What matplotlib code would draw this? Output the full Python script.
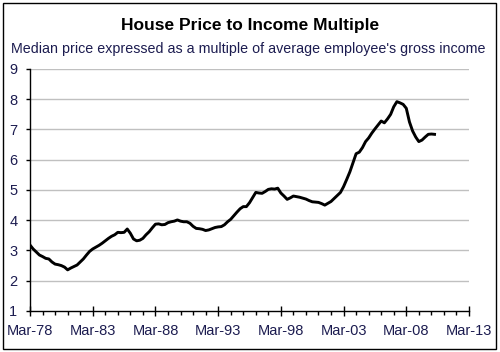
import matplotlib
matplotlib.use("Agg")
import matplotlib.pyplot as plt
from matplotlib.patches import Rectangle
import pandas as pd

title = "House Price to Income Multiple"
subtitle = "Median price expressed as a multiple of average employee's gross income"

start_date = "1978-03-01"
values = [
    3.18, 3.05, 2.95, 2.85,   # 1978
    2.80, 2.74, 2.72, 2.62,   # 1979
    2.55, 2.53, 2.50, 2.45,   # 1980
    2.36, 2.42, 2.47, 2.52,   # 1981
    2.62, 2.72, 2.85, 2.97,   # 1982
    3.05, 3.11, 3.17, 3.24,   # 1983
    3.32, 3.40, 3.47, 3.52,   # 1984
    3.60, 3.59, 3.60, 3.71,   # 1985
    3.57, 3.38, 3.32, 3.34,   # 1986
    3.40, 3.52, 3.62, 3.75,   # 1987
    3.87, 3.88, 3.85, 3.86,   # 1988
    3.92, 3.95, 3.97, 4.01,   # 1989
    3.97, 3.95, 3.95, 3.90,   # 1990
    3.80, 3.73, 3.72, 3.70,   # 1991
    3.66, 3.68, 3.72, 3.76,   # 1992
    3.78, 3.79, 3.85, 3.95,   # 1993
    4.03, 4.15, 4.27, 4.38,   # 1994
    4.45, 4.45, 4.58, 4.75,   # 1995
    4.92, 4.90, 4.89, 4.95,   # 1996
    5.02, 5.04, 5.03, 5.06,   # 1997
    4.90, 4.80, 4.69, 4.74,   # 1998
    4.80, 4.78, 4.76, 4.73,   # 1999
    4.70, 4.65, 4.61, 4.60,   # 2000
    4.59, 4.55, 4.50, 4.56,   # 2001
    4.62, 4.72, 4.82, 4.92,   # 2002
    5.11, 5.35, 5.60, 5.90,   # 2003
    6.20, 6.25, 6.40, 6.60,   # 2004
    6.72, 6.88, 7.02, 7.15,   # 2005
    7.28, 7.22, 7.35, 7.50,   # 2006
    7.75, 7.92, 7.88, 7.83,   # 2007
    7.70, 7.25, 6.95, 6.75,   # 2008
    6.60, 6.65, 6.75, 6.84,   # 2009
    6.85, 6.84,               # 2010
]
x_tick_labels = ["Mar-78", "Mar-83", "Mar-88", "Mar-93", "Mar-98", "Mar-03", "Mar-08", "Mar-13"]
y_ticks = [1, 2, 3, 4, 5, 6, 7, 8, 9]

dates = pd.date_range(start_date, periods=len(values), freq="3MS")
x_ticks = [pd.to_datetime(l, format="%b-%y") for l in x_tick_labels]
minor_ticks = pd.date_range(x_ticks[0], x_ticks[-1], freq="12MS")

plt.rcParams["font.family"] = ["Liberation Sans", "DejaVu Sans"]
text_color = "#1c1c50"

fig = plt.figure(figsize=(5.0, 3.52), dpi=100)
ax = fig.add_axes([0.06, 0.1165, 0.878, 0.6875])

ax.plot(dates, values, color="black", lw=2.1, solid_joinstyle="round")

ax.set_xlim(x_ticks[0], x_ticks[-1])
ax.set_ylim(1, 9)
ax.set_yticks(y_ticks)
ax.set_xticks(x_ticks)
ax.set_xticklabels(x_tick_labels)
ax.set_xticks(minor_ticks, minor=True)

for yv in y_ticks[1:]:
    ax.axhline(yv, color="#c0c0c0", lw=1.0, zorder=0)

for s in ["top", "right"]:
    ax.spines[s].set_visible(False)
for s in ["left", "bottom"]:
    ax.spines[s].set_color("black")
    ax.spines[s].set_linewidth(1.0)

ax.tick_params(axis="y", which="major", direction="out", length=3, width=1,
               labelsize=10.5, labelcolor=text_color, pad=6)
ax.tick_params(axis="x", which="major", direction="inout", length=7, width=1,
               labelsize=10.5, labelcolor=text_color, pad=6)
ax.tick_params(axis="x", which="minor", direction="out", length=3, width=1)

fig.text(0.5, 0.927, title, ha="center", va="center", fontsize=12.5,
         fontweight="bold", color="black")
fig.text(0.497, 0.862, subtitle, ha="center", va="center", fontsize=10.3,
         color=text_color)

fig.patches.append(Rectangle((0.006, 0.009), 0.986, 0.982, transform=fig.transFigure,
                             fill=False, edgecolor="black", lw=1.0))

fig.savefig("out.png", dpi=100)
